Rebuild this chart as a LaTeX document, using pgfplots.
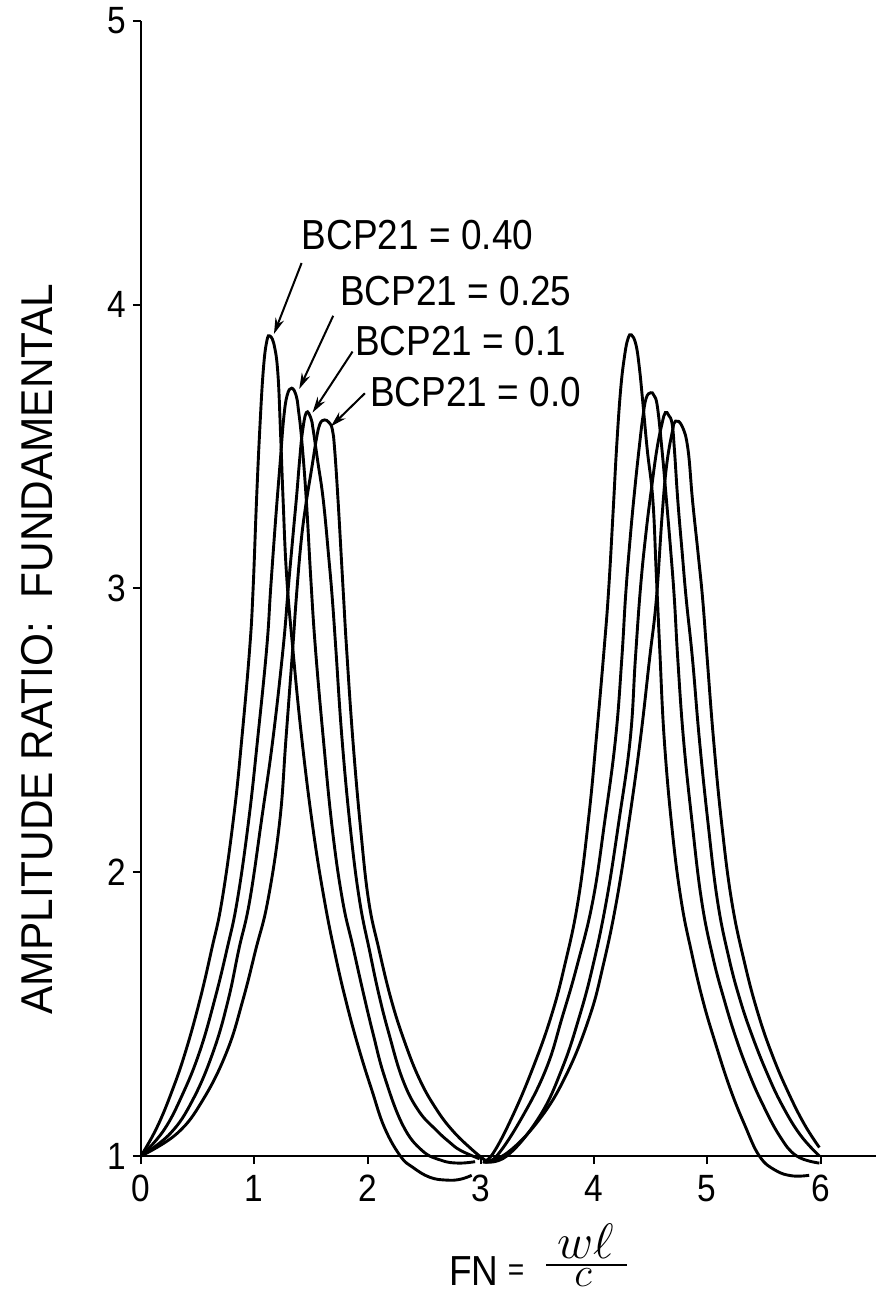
\documentclass[border=0pt]{standalone}
\usepackage{fontspec}
\setmainfont{Liberation Sans}[FakeStretch=0.88]
\newfontfamily\ylabfont{Liberation Sans}[FakeStretch=0.95]
\usepackage{pgfplots}
\pgfplotsset{compat=1.18}
\usetikzlibrary{arrows.meta}
\pgfplotsset{curve/.style={black, line width=1.45pt, smooth, tension=0.7, no markers}}

\begin{document}
\begin{tikzpicture}
\begin{axis}[
  at={(0,0)}, anchor=south west,
  scale only axis, width=367.5pt, height=567.5pt,
  xmin=0, xmax=6.49, ymin=1, ymax=5,
  axis x line=bottom, axis y line=left,
  axis line style={-, line width=1.1pt, black},
  xtick={0,...,6}, ytick={1,...,5},
  tick align=outside, major tick length=4pt,
  tick style={line width=1pt, black},
  /pgf/number format/assume math mode=true,
  ticklabel style={font=\fontsize{19}{19}\selectfont},
  xticklabel style={yshift=-2pt},
  clip=false,
]
% BCP21 = 0.40
\addplot[curve] coordinates {(0,1) (0.14,1.10) (0.275,1.23) (0.395,1.37) (0.52,1.55) (0.625,1.73) (0.715,1.90) (0.82,2.20) (0.89,2.47) (0.96,2.79) (0.99,3.00) (1.02,3.31) (1.05,3.57) (1.08,3.77) (1.11,3.87) (1.14,3.89) (1.18,3.85) (1.21,3.75) (1.232,3.55) (1.255,3.31) (1.285,3.05) (1.34,2.79) (1.42,2.47) (1.52,2.15) (1.62,1.90) (1.72,1.70) (1.82,1.53) (1.93,1.37) (2.04,1.23) (2.15,1.10) (2.29,1.00) (2.40,0.96) (2.55,0.925) (2.70,0.915) (2.82,0.918) (2.92,0.932)};
\addplot[curve] coordinates {(3.02,0.98) (3.11,1.01) (3.28,1.14) (3.46,1.31) (3.62,1.49) (3.74,1.67) (3.86,1.90) (3.955,2.20) (4.02,2.47) (4.09,2.79) (4.13,3.00) (4.17,3.28) (4.20,3.50) (4.235,3.70) (4.27,3.82) (4.30,3.88) (4.33,3.894) (4.37,3.86) (4.40,3.78) (4.43,3.66) (4.47,3.49) (4.52,3.31) (4.55,3.05) (4.58,2.79) (4.62,2.47) (4.69,2.15) (4.77,1.90) (4.86,1.72) (4.96,1.55) (5.07,1.40) (5.20,1.24) (5.33,1.11) (5.46,1.00) (5.60,0.95) (5.75,0.93) (5.90,0.932)};
% BCP21 = 0.25
\addplot[curve] coordinates {(0,1) (0.20,1.09) (0.37,1.22) (0.52,1.37) (0.65,1.55) (0.76,1.73) (0.85,1.90) (0.95,2.18) (1.03,2.47) (1.11,2.79) (1.145,3.00) (1.19,3.25) (1.23,3.45) (1.26,3.60) (1.29,3.68) (1.33,3.706) (1.37,3.68) (1.39,3.63) (1.42,3.52) (1.46,3.31) (1.50,3.03) (1.54,2.79) (1.61,2.47) (1.69,2.15) (1.78,1.90) (1.87,1.74) (1.96,1.58) (2.05,1.43) (2.15,1.28) (2.31,1.11) (2.48,1.02) (2.65,0.985) (2.80,0.975) (2.95,0.98)};
\addplot[curve] coordinates {(3.02,0.98) (3.14,1.00) (3.37,1.14) (3.58,1.31) (3.72,1.49) (3.85,1.67) (3.99,1.90) (4.095,2.18) (4.19,2.47) (4.245,2.75) (4.28,2.98) (4.32,3.18) (4.36,3.35) (4.40,3.50) (4.43,3.60) (4.46,3.67) (4.50,3.69) (4.53,3.68) (4.56,3.64) (4.60,3.49) (4.64,3.31) (4.68,3.12) (4.71,2.96) (4.74,2.75) (4.79,2.47) (4.865,2.18) (4.95,1.90) (5.05,1.70) (5.15,1.55) (5.25,1.42) (5.36,1.30) (5.48,1.19) (5.64,1.07) (5.79,1.00) (5.99,0.975)};
% BCP21 = 0.1
\addplot[curve] coordinates {(0,1) (0.26,1.08) (0.46,1.20) (0.64,1.37) (0.77,1.55) (0.865,1.73) (0.96,1.90) (1.07,2.20) (1.165,2.47) (1.255,2.79) (1.30,3.00) (1.345,3.20) (1.375,3.33) (1.40,3.45) (1.425,3.55) (1.46,3.62) (1.50,3.60) (1.52,3.56) (1.56,3.45) (1.61,3.31) (1.66,3.10) (1.69,2.96) (1.72,2.79) (1.775,2.47) (1.85,2.15) (1.93,1.90) (2.02,1.72) (2.10,1.57) (2.19,1.43) (2.31,1.27) (2.45,1.16) (2.61,1.09) (2.72,1.05) (2.82,1.02) (2.99,0.99)};
\addplot[curve] coordinates {(3.02,0.98) (3.23,1.00) (3.52,1.14) (3.72,1.31) (3.87,1.49) (3.99,1.67) (4.11,1.90) (4.22,2.18) (4.32,2.47) (4.365,2.75) (4.41,3.00) (4.46,3.20) (4.51,3.36) (4.555,3.49) (4.60,3.58) (4.63,3.62) (4.66,3.61) (4.69,3.58) (4.71,3.49) (4.74,3.31) (4.78,3.12) (4.815,2.96) (4.87,2.75) (4.93,2.47) (5.005,2.18) (5.09,1.90) (5.19,1.70) (5.29,1.55) (5.40,1.42) (5.53,1.29) (5.66,1.18) (5.82,1.075) (5.99,1.00)};
% BCP21 = 0.0
\addplot[curve] coordinates {(0,1) (0.32,1.08) (0.55,1.20) (0.76,1.37) (0.90,1.55) (1.015,1.73) (1.12,1.90) (1.225,2.18) (1.28,2.47) (1.34,2.79) (1.37,2.96) (1.41,3.15) (1.45,3.28) (1.51,3.43) (1.55,3.53) (1.58,3.58) (1.62,3.594) (1.66,3.585) (1.69,3.56) (1.71,3.49) (1.74,3.31) (1.77,3.10) (1.79,2.96) (1.815,2.79) (1.87,2.47) (1.94,2.15) (2.01,1.90) (2.10,1.73) (2.21,1.55) (2.33,1.40) (2.46,1.27) (2.60,1.17) (2.75,1.09) (2.93,1.02) (3.04,0.985)};
\addplot[curve] coordinates {(3.02,0.98) (3.23,1.01) (3.52,1.13) (3.76,1.29) (3.96,1.49) (4.08,1.67) (4.20,1.90) (4.31,2.18) (4.41,2.47) (4.49,2.75) (4.55,2.96) (4.60,3.25) (4.64,3.43) (4.69,3.55) (4.72,3.59) (4.78,3.57) (4.83,3.49) (4.87,3.31) (4.92,3.12) (4.96,2.96) (5.00,2.75) (5.055,2.47) (5.125,2.18) (5.215,1.90) (5.33,1.68) (5.45,1.50) (5.58,1.35) (5.72,1.22) (5.86,1.11) (5.99,1.03)};

% curve labels with arrows to the first peaks
\begin{scope}[every node/.style={anchor=west, inner sep=0pt, font=\fontsize{21}{21}\selectfont}]
\node at (axis cs:1.418,4.246) {BCP21 = 0.40};
\node at (axis cs:1.756,4.049) {BCP21 = 0.25};
\node at (axis cs:1.889,3.873) {BCP21 = 0.1};
\node at (axis cs:2.021,3.693) {BCP21 = 0.0};
\end{scope}
\begin{scope}[-{Stealth[length=8pt,width=4.5pt]}, line width=1pt]
\draw (axis cs:1.418,4.147) -- (axis cs:1.174,3.897);
\draw (axis cs:1.697,3.961) -- (axis cs:1.397,3.703);
\draw (axis cs:1.868,3.835) -- (axis cs:1.515,3.620);
\draw (axis cs:1.977,3.688) -- (axis cs:1.677,3.571);
\end{scope}
\end{axis}

% axis titles
\node[rotate=90, inner sep=0pt, font=\ylabfont\fontsize{22.3}{22.3}\selectfont] at (-51.75pt,253.5pt) {AMPLITUDE RATIO:\ \ FUNDAMENTAL};
\node[anchor=base west, inner sep=0pt, font=\fontsize{21}{21}\selectfont] at (154pt,-64.5pt) {FN};
\node[anchor=base, inner sep=0pt, font=\fontsize{16}{16}\selectfont] at (187.5pt,-62pt) {=};
\draw[line width=1pt] (202.5pt,-54.5pt) -- (243pt,-54.5pt);
\node[anchor=south, inner sep=0pt, font=\fontsize{25}{25}\selectfont] at (222.5pt,-51.5pt) {$w\ell$};
\node[anchor=north, inner sep=0pt, font=\fontsize{22}{22}\selectfont] at (221pt,-56pt) {$c$};

\pgfresetboundingbox
\path (-70.5pt,-70pt) rectangle (367.5pt,578pt);
\end{tikzpicture}
\end{document}
